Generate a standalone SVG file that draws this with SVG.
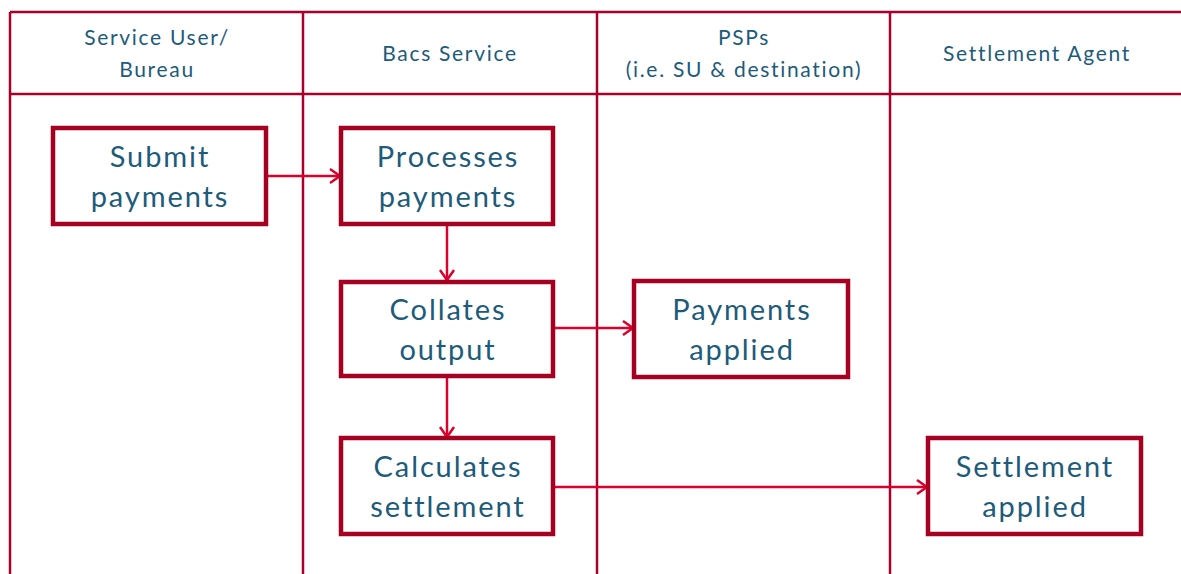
<svg xmlns="http://www.w3.org/2000/svg" width="1181" height="574" viewBox="0 0 1181 574">
<style>
.lane{stroke:#a8002b;stroke-width:2.5;fill:none}
.box{fill:#fff;stroke:#a50021;stroke-width:4.5}
.hdr{font-family:Lato,"Liberation Sans",Arial,sans-serif;font-size:21px;letter-spacing:1.7px;fill:#1d5b7b;text-anchor:middle}
.lbl{font-family:Lato,"Liberation Sans",Arial,sans-serif;font-size:29px;letter-spacing:1.9px;fill:#1d5b7b;text-anchor:middle}
.con{stroke:#dc002c;stroke-width:2.5;fill:none;marker-end:url(#arr)}
</style>
<defs>
<marker id="arr" markerUnits="userSpaceOnUse" markerWidth="20" markerHeight="20" refX="12" refY="10" orient="auto">
<path d="M2,3 L12,10 L2,17" fill="none" stroke="#dc002c" stroke-width="2.5"/>
</marker>
</defs>
<g id="lanes">
<path class="lane" d="M10,12 H1181 M10,94 H1181 M10,12 V574 M303,12 V574 M597,12 V574 M890,12 V574"/>
<text class="hdr" x="157" y="45">Service User/</text>
<text class="hdr" x="157" y="77">Bureau</text>
<text class="hdr" x="450" y="61">Bacs Service</text>
<text class="hdr" x="744" y="45">PSPs</text>
<text class="hdr" x="744" y="77">(i.e. SU &amp; destination)</text>
<text class="hdr" x="1037" y="61">Settlement Agent</text>
</g>
<g id="connectors">
<path class="con" d="M267,176 H340"/>
<path class="con" d="M447,226 V280"/>
<path class="con" d="M555,328 H633"/>
<path class="con" d="M447,378 V437"/>
<path class="con" d="M555,487 H927"/>
</g>
<g id="submit">
<rect class="box" x="53" y="128" width="213" height="96"/>
<text class="lbl" x="160" y="167">Submit</text>
<text class="lbl" x="160" y="207">payments</text>
</g>
<g id="processes">
<rect class="box" x="341" y="128" width="212" height="96"/>
<text class="lbl" x="448" y="167">Processes</text>
<text class="lbl" x="448" y="207">payments</text>
</g>
<g id="collates">
<rect class="box" x="341" y="282" width="212" height="94"/>
<text class="lbl" x="448" y="320">Collates</text>
<text class="lbl" x="448" y="360">output</text>
</g>
<g id="payments-applied">
<rect class="box" x="634" y="281" width="214" height="96"/>
<text class="lbl" x="742" y="320">Payments</text>
<text class="lbl" x="742" y="360">applied</text>
</g>
<g id="calculates">
<rect class="box" x="341" y="438" width="212" height="96"/>
<text class="lbl" x="448" y="477">Calculates</text>
<text class="lbl" x="448" y="517">settlement</text>
</g>
<g id="settlement-applied">
<rect class="box" x="928" y="438" width="213" height="96"/>
<text class="lbl" x="1035" y="477">Settlement</text>
<text class="lbl" x="1035" y="517">applied</text>
</g>
</svg>
